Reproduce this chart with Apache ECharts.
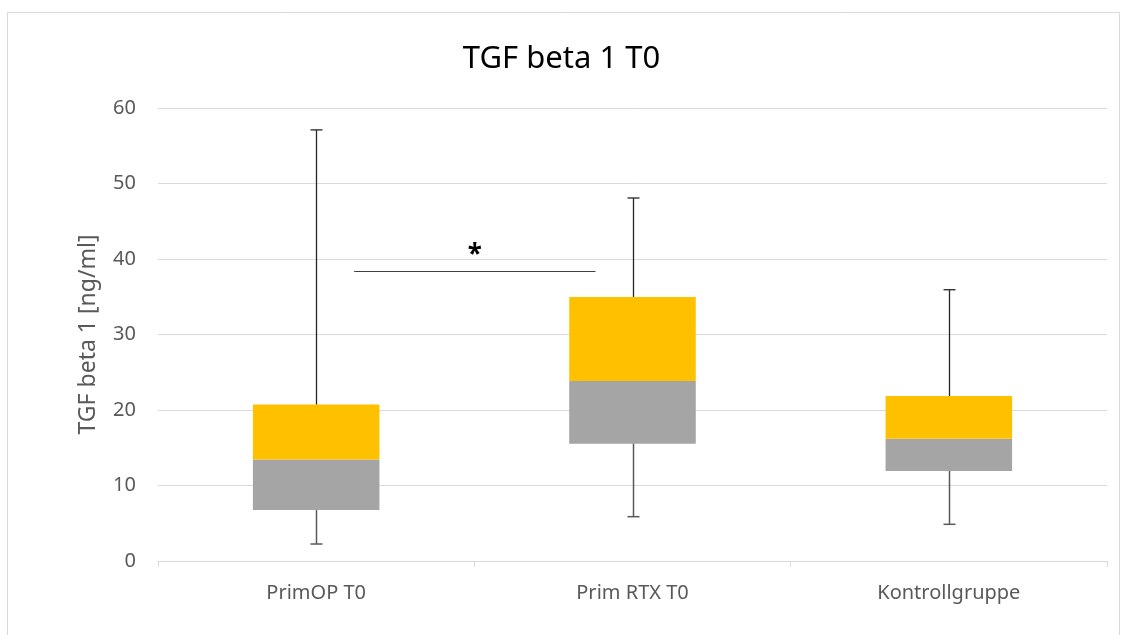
<!DOCTYPE html>
<html>
<head>
<meta charset="utf-8">
<script src="https://cdn.jsdelivr.net/npm/echarts@6/dist/echarts.min.js"></script>
<style>
html,body{margin:0;padding:0;background:#fff;}
#chart{width:1123px;height:635px;}
</style>
</head>
<body>
<div id="chart"></div>
<script>
const categories = ['PrimOP T0', 'Prim RTX T0', 'Kontrollgruppe'];
const minVals = [2.25, 5.87, 4.86];
const q1Vals = [6.75, 15.54, 11.92];
const medianVals = [13.44, 23.84, 16.2];
const q3Vals = [20.73, 34.97, 21.85];
const maxVals = [57.1, 48.08, 35.93];
const yTicks = [0, 10, 20, 30, 40, 50, 60];
// significance bracket between group 0 and group 1
const sigLevel = [38.4];
const sigLabel = '*';

const lowerBox = q1Vals.map((q, i) => +(medianVals[i] - q).toFixed(3));
const upperBox = q3Vals.map((q, i) => +(q - medianVals[i]).toFixed(3));

const chart = echarts.init(document.getElementById('chart'));

function whisker(params, api) {
  const i = api.value(0);
  const lo = api.value(1), q1 = api.value(2), q3 = api.value(3), hi = api.value(4);
  const pLo = api.coord([i, lo]);
  const pQ1 = api.coord([i, q1]);
  const pQ3 = api.coord([i, q3]);
  const pHi = api.coord([i, hi]);
  const x = Math.round(pLo[0]) + 0.5;
  const cap = 6;
  return {
    type: 'group',
    children: [
      {type: 'line', shape: {x1: x, y1: pQ3[1], x2: x, y2: pHi[1]}, style: {stroke: '#262626', lineWidth: 1.3}},
      {type: 'line', shape: {x1: x - cap, y1: pHi[1], x2: x + cap, y2: pHi[1]}, style: {stroke: '#262626', lineWidth: 1.3}},
      {type: 'line', shape: {x1: x, y1: pLo[1], x2: x, y2: pQ1[1]}, style: {stroke: '#595959', lineWidth: 1.5}},
      {type: 'line', shape: {x1: x - cap, y1: pLo[1], x2: x + cap, y2: pLo[1]}, style: {stroke: '#595959', lineWidth: 1.5}}
    ]
  };
}

function sigBracket(params, api) {
  const y = api.value(0);
  const c0 = api.coord([0, y]);
  const c1 = api.coord([1, y]);
  const w = api.size([1, 0])[0];
  const x1 = c0[0] + 0.12 * w;
  const x2 = c1[0] - 0.117 * w;
  const yy = Math.round(c0[1]) + 0.5;
  return {
    type: 'group',
    children: [
      {type: 'line', shape: {x1: x1, y1: yy, x2: x2, y2: yy}, style: {stroke: '#404040', lineWidth: 1.2}},
      {type: 'text', x: (x1 + x2) / 2, y: yy - 3, style: {text: sigLabel, fill: '#000', font: 'bold 26px "Noto Sans"', align: 'center', verticalAlign: 'bottom'}}
    ]
  };
}

chart.setOption({
  animation: false,
  backgroundColor: '#fff',
  title: {
    text: 'TGF beta 1 T0',
    left: 'center',
    top: 39,
    textStyle: {fontFamily: '"Noto Sans"', fontSize: 31, fontWeight: 'normal', color: '#000'}
  },
  graphic: [{
    type: 'rect',
    shape: {x: 7.5, y: 12.5, width: 1112, height: 640},
    style: {fill: 'none', stroke: '#d9d9d9', lineWidth: 1},
    silent: true
  }],
  grid: {left: 158, right: 16, top: 108, bottom: 74},
  xAxis: {
    type: 'category',
    data: categories,
    axisLine: {lineStyle: {color: '#d9d9d9', width: 1}},
    axisTick: {show: true, alignWithLabel: false, length: 6, lineStyle: {color: '#d9d9d9'}},
    axisLabel: {color: '#595959', fontSize: 20, fontFamily: '"Noto Sans"', margin: 22}
  },
  yAxis: {
    type: 'value',
    min: yTicks[0],
    max: yTicks[yTicks.length - 1],
    interval: 10,
    name: 'TGF beta 1 [ng/ml]',
    nameLocation: 'middle',
    nameGap: 58,
    nameTextStyle: {color: '#595959', fontSize: 23, fontFamily: '"Noto Sans"'},
    axisLine: {show: false},
    axisTick: {show: false},
    axisLabel: {color: '#595959', fontSize: 20, fontFamily: '"Noto Sans"', margin: 22},
    splitLine: {lineStyle: {color: '#d9d9d9', width: 1}}
  },
  series: [
    {type: 'bar', stack: 'box', data: q1Vals, barWidth: '40%', itemStyle: {color: 'transparent'}, silent: true},
    {type: 'bar', stack: 'box', data: lowerBox, itemStyle: {color: '#a5a5a5'}},
    {type: 'bar', stack: 'box', data: upperBox, itemStyle: {color: '#ffc000'}},
    {
      type: 'custom',
      renderItem: whisker,
      data: categories.map((c, i) => [i, minVals[i], q1Vals[i], q3Vals[i], maxVals[i]]),
      encode: {x: 0, y: [1, 4]},
      z: 5
    },
    {
      type: 'custom',
      renderItem: sigBracket,
      coordinateSystem: 'cartesian2d',
      data: sigLevel.map(v => [v]),
      encode: {y: 0},
      z: 6
    }
  ]
});
</script>
</body>
</html>
